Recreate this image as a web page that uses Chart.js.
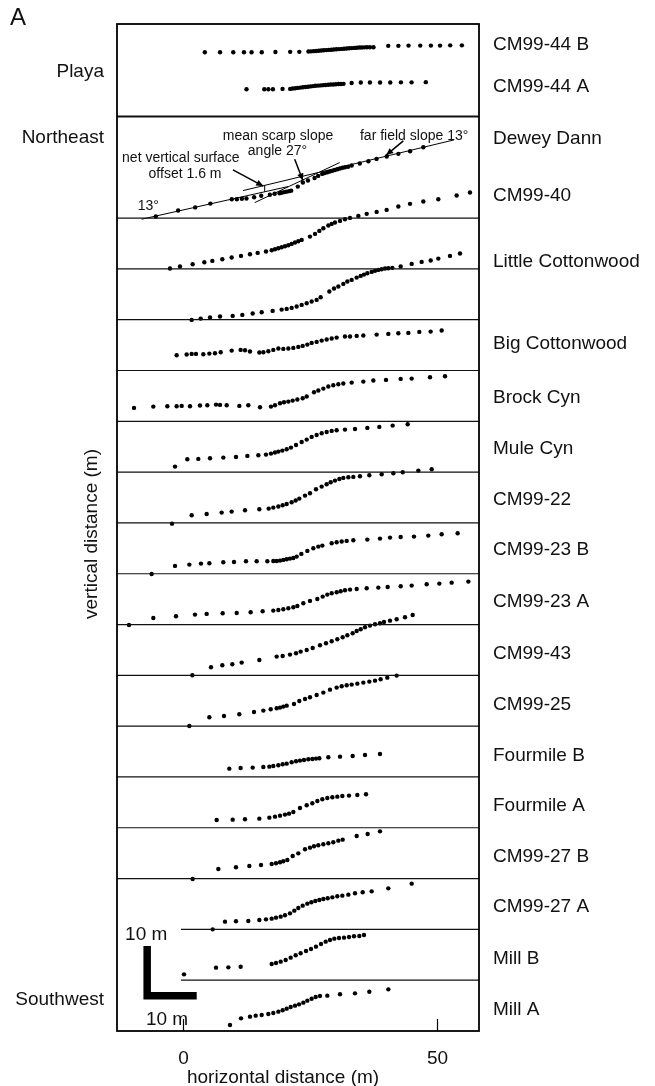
<!DOCTYPE html>
<html><head><meta charset="utf-8">
<script src="https://cdn.jsdelivr.net/npm/chart.js@4/dist/chart.umd.min.js"></script>
<style>html,body{margin:0;padding:0;background:#fff}</style>
</head><body><canvas id="c" width="655" height="1086"></canvas>
<script>
const FONT = '"Liberation Sans", Arial, Helvetica, sans-serif';
const X_MIN = -13.09, X_MAX = 58.17, Y_MAX = 198.2;
const xTicks = [0, 50];

// profile names and label heights (m on the stacked axis)
const profileNames = ['CM99-44 B','CM99-44 A','Dewey Dann','CM99-40','Little Cottonwood','Big Cottonwood','Brock Cyn','Mule Cyn','CM99-22','CM99-23 B','CM99-23 A','CM99-43','CM99-25','Fourmile B','Fourmile A','CM99-27 B','CM99-27 A','Mill B','Mill A'];
const labelY = [194.1,185.8,175.6,164.4,151.4,135.2,124.6,114.6,104.5,94.7,84.4,74.2,64.2,54.1,44.3,34.3,24.4,14.2,4.1];

// separator lines (m)
const sepY = [10,20,30,40,50,60,70,80,90,100,110,120,130,140,150,160,180];
const sepStartX = [-0.5,-0.5,X_MIN,X_MIN,X_MIN,X_MIN,X_MIN,X_MIN,X_MIN,X_MIN,X_MIN,X_MIN,X_MIN,X_MIN,X_MIN,X_MIN,X_MIN];

// profiles: [horizontal m, vertical m]
const cm9944B = [[4.2,192.65],[7.2,192.65],[9.8,192.65],[11.9,192.65],[13.4,192.65],[15.4,192.65],[18.1,192.7],[21.0,192.72],[22.8,192.72],[24.6,192.78],[25.1,192.82],[25.6,192.86],[26.1,192.9],[26.6,192.94],[27.1,192.98],[27.6,193.02],[28.1,193.06],[28.6,193.1],[29.1,193.14],[29.6,193.18],[30.1,193.22],[30.6,193.26],[31.1,193.3],[31.6,193.34],[32.1,193.38],[32.6,193.42],[33.1,193.46],[33.6,193.5],[34.1,193.52],[34.6,193.56],[35.1,193.58],[35.6,193.6],[36.1,193.62],[36.7,193.62],[37.4,193.62],[40.3,193.9],[42.3,193.9],[44.3,193.95],[46.6,193.95],[48.7,193.95],[50.5,193.95],[52.5,194.0],[54.8,194.0]];
const cm9944A = [[12.4,185.37],[15.9,185.37],[16.7,185.37],[17.6,185.37],[19.5,185.43],[21.0,185.43],[21.5,185.5],[22.0,185.56],[22.5,185.62],[23.0,185.68],[23.5,185.74],[24.0,185.8],[24.5,185.86],[25.0,185.92],[25.5,185.98],[26.0,186.04],[26.5,186.08],[27.0,186.12],[27.5,186.16],[28.0,186.2],[28.5,186.24],[29.0,186.28],[29.5,186.3],[30.0,186.34],[30.5,186.38],[31.0,186.4],[31.5,186.42],[33.1,186.6],[34.9,186.68],[36.7,186.68],[38.7,186.7],[40.7,186.7],[42.8,186.72],[44.9,186.72],[47.7,186.75]];
const deweyDann = [[-5.45,160.3],[-1.05,161.5],[2.3,162.1],[5.3,162.85],[9.5,163.7],[10.5,163.72],[11.5,163.8],[12.4,163.85],[13.9,164.1],[15.3,164.4],[17.0,164.6],[17.95,164.8],[18.9,164.9],[19.3,165.0],[19.8,165.1],[20.3,165.2],[20.8,165.3],[21.2,165.4],[22.5,166.2],[23.5,167.0],[24.5,167.4],[25.8,167.9],[26.5,168.3],[27.3,168.7],[27.8,168.85],[28.3,169.0],[28.8,169.15],[29.3,169.3],[29.8,169.45],[30.3,169.6],[30.8,169.75],[31.3,169.9],[31.8,170.0],[32.4,170.1],[33.1,170.34],[34.7,170.73],[36.4,171.19],[38.0,171.65],[40.0,172.11],[42.3,172.64],[44.6,173.16],[47.2,173.95]];
const cm9940 = [[-2.66,150.07],[-0.69,150.46],[1.8,150.92],[4.1,151.31],[5.68,151.57],[7.64,151.9],[9.48,152.23],[11.32,152.56],[13.09,152.89],[14.6,153.15],[16.24,153.41],[17.36,153.67],[18.01,153.87],[18.67,154.07],[19.32,154.27],[19.98,154.46],[20.64,154.66],[21.29,154.92],[21.95,155.18],[22.6,155.45],[23.26,155.71],[24.9,156.36],[25.89,156.89],[26.74,157.48],[27.53,158.01],[28.51,158.53],[29.17,158.86],[29.82,159.12],[30.81,159.45],[31.79,159.78],[32.78,160.04],[34.42,160.43],[36.06,160.83],[38.02,161.22],[39.99,161.61],[42.29,162.27],[44.59,162.8],[47.21,163.25],[50.16,163.71],[53.77,164.44],[56.39,165.03]];
const littleCottonwood = [[1.61,139.96],[3.38,140.22],[5.22,140.42],[7.19,140.62],[9.68,140.75],[11.58,140.94],[13.62,141.21],[15.39,141.47],[17.55,141.73],[19.32,141.99],[20.31,142.13],[21.29,142.32],[22.28,142.59],[23.26,142.91],[24.25,143.24],[25.23,143.57],[26.21,143.9],[27.0,144.42],[28.71,145.54],[29.63,146.13],[30.48,146.52],[31.46,147.05],[32.25,147.51],[33.1,147.83],[34.09,148.29],[34.88,148.62],[35.53,148.88],[36.19,149.15],[37.04,149.41],[37.7,149.61],[38.35,149.8],[39.01,149.93],[39.67,150.07],[40.32,150.13],[41.11,150.2],[42.75,150.46],[44.92,150.98],[46.88,151.38],[48.66,151.64],[50.16,152.03],[52.46,152.56],[54.43,153.02]];
const bigCottonwood = [[-1.35,133.01],[0.62,133.14],[1.61,133.27],[2.46,133.27],[3.9,133.2],[5.09,133.33],[6.2,133.4],[7.32,133.6],[9.48,133.92],[11.25,134.06],[12.11,133.99],[13.09,133.73],[14.93,133.53],[15.72,133.6],[16.7,133.79],[17.68,134.06],[18.67,134.32],[19.65,134.25],[20.64,134.32],[21.62,134.45],[22.6,134.65],[23.46,134.84],[24.38,135.1],[25.23,135.43],[26.21,135.63],[27.2,135.89],[28.18,136.09],[29.17,136.29],[30.15,136.48],[31.79,136.68],[32.78,136.68],[34.09,136.81],[35.4,136.88],[38.02,137.07],[40.32,137.2],[42.29,137.34],[44.26,137.4],[46.42,137.6],[48.65,137.66],[50.82,137.86]];
const brockCyn = [[-9.74,122.64],[-5.94,122.9],[-3.18,122.97],[-1.35,122.97],[-0.36,123.03],[1.28,122.97],[3.25,123.1],[4.69,123.16],[6.4,123.29],[7.19,123.23],[8.5,123.16],[10.99,123.03],[12.76,123.16],[15.06,122.77],[17.22,122.9],[18.01,123.16],[19.0,123.56],[19.78,123.75],[20.64,123.88],[21.49,124.08],[22.41,124.28],[23.46,124.54],[24.25,124.87],[25.69,125.72],[26.54,126.05],[27.53,126.44],[28.51,126.84],[29.49,127.1],[30.48,127.3],[31.46,127.43],[33.1,127.62],[35.4,127.82],[37.37,128.02],[39.86,128.15],[42.75,128.35],[44.92,128.41],[48.53,128.67],[51.48,128.87]];
const muleCyn = [[-1.67,111.09],[0.75,112.53],[2.92,112.6],[5.22,112.73],[7.84,112.86],[10.33,112.99],[12.57,113.19],[14.73,113.32],[16.24,113.45],[17.22,113.65],[18.01,113.85],[18.67,114.04],[19.46,114.24],[20.31,114.5],[21.16,114.83],[22.15,115.35],[23.26,115.94],[24.25,116.4],[25.23,116.93],[26.21,117.32],[27.2,117.65],[28.18,117.91],[29.17,118.11],[30.15,118.24],[31.79,118.37],[33.76,118.5],[36.19,118.7],[38.55,118.9],[41.17,119.16],[44.13,119.42]];
const cm9922 = [[-2.26,99.86],[1.61,101.51],[4.56,101.77],[7.51,102.03],[9.48,102.23],[12.11,102.49],[14.93,102.69],[16.77,102.82],[17.68,103.02],[18.67,103.22],[19.52,103.48],[20.31,103.74],[21.29,104.07],[22.08,104.4],[22.8,104.79],[23.92,105.38],[24.9,105.84],[26.08,106.63],[27.2,107.15],[28.18,107.61],[28.97,108.01],[29.82,108.33],[30.68,108.66],[31.46,108.86],[32.45,108.99],[33.43,109.06],[34.74,109.19],[36.58,109.38],[39.01,109.58],[41.31,109.78],[43.15,109.97],[46.23,110.3],[48.86,110.56]];
const cm9923B = [[-6.27,89.96],[-1.67,91.54],[1.15,91.8],[3.44,91.99],[5.09,92.06],[7.84,92.26],[9.94,92.32],[12.3,92.45],[14.4,92.45],[16.5,92.45],[17.68,92.52],[18.34,92.52],[19.0,92.59],[19.65,92.72],[20.31,92.85],[20.96,92.98],[21.62,93.11],[22.28,93.37],[23.2,93.9],[24.38,94.49],[25.56,95.01],[26.54,95.34],[27.33,95.54],[29.17,96.0],[30.15,96.19],[31.14,96.33],[32.12,96.46],[33.43,96.59],[36.19,96.72],[38.68,96.92],[40.65,97.11],[42.75,97.24],[45.37,97.31],[48.19,97.51],[50.82,97.77],[53.97,97.97]];
const cm9923A = [[-10.73,79.92],[-5.94,81.3],[-1.48,81.63],[2.26,81.96],[4.56,82.09],[7.71,82.22],[10.47,82.28],[13.22,82.41],[15.58,82.61],[17.68,82.74],[18.67,82.87],[19.65,83.01],[20.64,83.2],[21.62,83.4],[22.41,83.66],[23.59,84.19],[24.9,84.65],[26.34,85.04],[27.4,85.5],[28.31,85.89],[29.17,86.15],[30.15,86.35],[30.94,86.55],[31.79,86.75],[32.78,86.88],[34.09,87.01],[36.06,87.14],[38.35,87.27],[40.19,87.4],[42.75,87.53],[44.92,87.66],[47.87,87.93],[50.36,88.06],[52.79,88.25],[56.07,88.45]];
const cm9943 = [[1.74,70.01],[5.41,71.59],[7.64,71.98],[9.61,72.18],[11.45,72.51],[14.93,73.03],[18.34,73.69],[19.52,73.82],[20.96,74.08],[22.15,74.34],[23.06,74.67],[24.25,75.0],[25.43,75.39],[26.87,75.92],[28.05,76.31],[29.17,76.71],[30.28,77.1],[31.33,77.49],[32.25,77.89],[33.3,78.28],[34.09,78.74],[34.88,79.07],[35.73,79.46],[36.71,79.79],[37.7,80.05],[38.68,80.25],[39.47,80.51],[40.65,80.77],[41.96,81.04],[43.6,81.43],[45.11,81.89]];
const cm9925 = [[1.15,60.04],[5.09,61.75],[7.97,62.01],[10.99,62.34],[13.88,62.8],[15.72,63.06],[17.16,63.32],[18.34,63.52],[19.0,63.65],[19.65,63.85],[20.31,64.04],[21.75,64.37],[22.8,64.96],[23.92,65.35],[24.9,65.68],[26.21,66.14],[27.53,66.6],[28.84,67.19],[30.15,67.59],[31.14,67.85],[32.12,68.04],[33.1,68.18],[34.22,68.37],[35.4,68.57],[36.58,68.77],[37.7,68.96],[38.81,69.23],[40.12,69.55],[41.96,69.95]];
const fourmileB = [[9.02,51.64],[11.25,51.77],[13.62,51.84],[15.72,51.97],[16.9,52.03],[17.68,52.17],[18.67,52.3],[19.52,52.49],[20.31,52.62],[21.29,52.89],[22.15,53.08],[22.93,53.22],[23.72,53.35],[24.57,53.48],[25.36,53.54],[26.08,53.61],[26.74,53.67],[28.51,53.87],[30.81,54.0],[33.3,54.13],[35.73,54.33],[38.68,54.53]];
const fourmileA = [[6.53,41.54],[9.68,41.6],[12.11,41.67],[14.93,41.8],[16.9,41.99],[18.01,42.19],[19.0,42.39],[19.98,42.59],[20.77,42.78],[21.62,43.11],[22.93,43.9],[24.25,44.42],[25.36,44.82],[26.35,45.28],[27.33,45.6],[28.31,45.87],[29.3,46.0],[30.28,46.13],[31.27,46.26],[32.58,46.33],[34.22,46.46],[35.93,46.59]];
const cm9927B = [[1.8,29.92],[6.86,31.89],[10.33,32.22],[12.96,32.48],[15.26,32.68],[17.36,32.87],[18.21,33.01],[19.0,33.2],[19.65,33.4],[20.44,33.66],[21.49,34.45],[22.6,34.97],[23.92,35.76],[24.9,36.09],[25.69,36.35],[26.54,36.55],[27.53,36.75],[28.51,36.94],[29.49,37.14],[30.48,37.47],[31.33,37.66],[34.09,38.39],[36.25,38.78],[38.68,39.3]];
const cm9927A = [[5.74,20.01],[8.17,21.52],[10.33,21.59],[12.76,21.65],[14.93,21.85],[16.24,21.98],[17.36,22.11],[18.21,22.31],[19.13,22.51],[19.98,22.77],[20.96,23.16],[21.82,23.69],[22.6,24.21],[23.46,24.67],[24.38,25.07],[25.17,25.33],[25.95,25.59],[26.74,25.79],[27.53,25.98],[28.38,26.12],[29.3,26.31],[30.28,26.51],[31.27,26.64],[32.45,26.84],[33.76,27.1],[35.27,27.3],[37.04,27.49],[40.32,28.08],[44.92,29.0]];
const millB = [[0.1,11.15],[6.4,12.47],[8.83,12.53],[11.25,12.66],[17.36,13.19],[18.21,13.39],[19.13,13.65],[20.11,13.98],[21.1,14.44],[22.08,14.9],[23.06,15.29],[24.12,15.75],[25.1,16.14],[26.08,16.6],[27.07,17.13],[27.99,17.59],[28.84,17.91],[29.69,18.18],[30.61,18.31],[31.6,18.37],[32.58,18.5],[33.56,18.64],[34.61,18.7],[35.53,18.9]];
const millA = [[9.15,1.18],[11.32,2.49],[13.09,2.82],[14.21,3.02],[15.39,3.15],[16.7,3.35],[17.68,3.54],[18.67,3.81],[19.52,4.07],[20.31,4.4],[21.1,4.72],[21.95,4.99],[22.74,5.25],[23.59,5.58],[24.38,5.97],[25.23,6.36],[26.02,6.69],[26.87,6.89],[28.31,6.96],[30.81,7.22],[33.76,7.41],[36.58,7.74],[40.32,8.2]];

const profiles = [cm9944B,cm9944A,deweyDann,cm9940,littleCottonwood,bigCottonwood,brockCyn,muleCyn,cm9922,cm9923B,cm9923A,cm9943,cm9925,fourmileB,fourmileA,cm9927B,cm9927A,millB,millA];

// Dewey Dann construction lines [x1,y1,x2,y2]
const lowerFarField = [-8.23,159.78,20.57,166.2];
const upperFarField = [11.71,165.41,53.25,175.39];
const scarpLine = [14.02,163.05,30.75,170.93];
const offsetTick = [15.98,165.18,15.98,166.44];
// scale bar (10 m x 10 m)
const scaleBar = [[-7.15,16.73],[-7.15,6.93],[2.6,6.93]];

// annotation texts [text, x m, y m, align]
const notes = [
  ['far field slope 13°',34.74,176.2,'left'],
  ['mean scarp slope',18.6,176.2,'center'],
  ['angle 27°',18.5,173.1,'center'],
  ['net vertical surface',-0.53,171.8,'center'],
  ['offset 1.6 m',0.3,168.7,'center'],
  ['13°',-6.93,162.3,'center']
];
// arrows [x1,y1,x2,y2] (m)
const arrows = [[9.74,169.49,15.7,166.3],[21.89,171.59,23.5,167.4],[43.27,175.2,39.9,172.4]];
const regionLabels = [['Playa',188.8],['Northeast',175.8],['Southwest',6.1]];

const datasets = [];
sepY.forEach((y,i)=>datasets.push({data:[{x:sepStartX[i],y},{x:X_MAX,y}],showLine:true,pointRadius:0,borderColor:'#111',borderWidth:y===180?2:1.2}));
[lowerFarField,upperFarField,scarpLine,offsetTick].forEach(l=>datasets.push({data:[{x:l[0],y:l[1]},{x:l[2],y:l[3]}],showLine:true,pointRadius:0,borderColor:'#000',borderWidth:1}));
datasets.push({data:scaleBar.map(p=>({x:p[0],y:p[1]})),showLine:true,pointRadius:0,borderColor:'#000',borderWidth:7.5,borderCapStyle:'butt',borderJoinStyle:'miter'});
profiles.forEach(p=>datasets.push({data:p.map(q=>({x:q[0],y:q[1]})),showLine:false,pointRadius:2.2,pointBackgroundColor:'#000',pointBorderWidth:0}));

function txt(ctx,s,x,y,size,align){ctx.font=size+'px '+FONT;ctx.textAlign=align;ctx.textBaseline='middle';ctx.fillStyle='#111';ctx.fillText(s,x,y);}
function arrow(ctx,x1,y1,x2,y2){ctx.beginPath();ctx.moveTo(x1,y1);ctx.lineTo(x2,y2);ctx.stroke();const a=Math.atan2(y2-y1,x2-x1),L=7,W=3.2;ctx.beginPath();ctx.moveTo(x2,y2);ctx.lineTo(x2-L*Math.cos(a)+W*Math.sin(a),y2-L*Math.sin(a)-W*Math.cos(a));ctx.lineTo(x2-L*Math.cos(a)-W*Math.sin(a),y2-L*Math.sin(a)+W*Math.cos(a));ctx.closePath();ctx.fill();}

const deco = {id:'deco',afterDraw(chart){
  const ctx=chart.ctx, a=chart.chartArea, xs=chart.scales.x, ys=chart.scales.y;
  ctx.save();
  ctx.strokeStyle='#000';ctx.lineWidth=1.8;ctx.strokeRect(a.left,a.top,a.right-a.left,a.bottom-a.top);
  ctx.lineWidth=1.2;
  xTicks.forEach(v=>{const px=xs.getPixelForValue(v);ctx.beginPath();ctx.moveTo(px,a.bottom);ctx.lineTo(px,a.bottom-12);ctx.stroke();});
  profileNames.forEach((n,i)=>txt(ctx,n,a.right+14,ys.getPixelForValue(labelY[i]),19,'left'));
  regionLabels.forEach(r=>txt(ctx,r[0],a.left-13,ys.getPixelForValue(r[1]),19,'right'));
  notes.forEach(n=>txt(ctx,n[0],xs.getPixelForValue(n[1]),ys.getPixelForValue(n[2]),14,n[3]));
  ctx.fillStyle='#000';ctx.strokeStyle='#000';ctx.lineWidth=1.5;
  arrows.forEach(r=>arrow(ctx,xs.getPixelForValue(r[0]),ys.getPixelForValue(r[1]),xs.getPixelForValue(r[2]),ys.getPixelForValue(r[3])));
  txt(ctx,'10 m',xs.getPixelForValue(-11.5),ys.getPixelForValue(18.9),19,'left');
  txt(ctx,'10 m',xs.getPixelForValue(-7.4),ys.getPixelForValue(2.2),19,'left');
  txt(ctx,'A',10,18,24,'left');
  txt(ctx,'horizontal distance (m)',xs.getPixelForValue(19.6),1078,19,'center');
  ctx.translate(92,534);ctx.rotate(-Math.PI/2);txt(ctx,'vertical distance (m)',0,0,19,'center');
  ctx.restore();
}};

new Chart(document.getElementById('c'),{
  type:'scatter',
  data:{datasets},
  options:{
    responsive:false,animation:false,
    layout:{padding:{left:117,right:176,top:24,bottom:0}},
    plugins:{legend:{display:false},tooltip:{enabled:false}},
    scales:{
      x:{type:'linear',min:X_MIN,max:X_MAX,
        afterBuildTicks:s=>{s.ticks=xTicks.map(v=>({value:v}));},
        afterFit:s=>{s.height=55;},
        grid:{display:false},border:{display:false},
        ticks:{font:{family:FONT,size:19},color:'#111',padding:8,maxRotation:0,autoSkip:false}},
      y:{type:'linear',min:0,max:Y_MAX,display:false}
    }
  },
  plugins:[deco]
});
</script></body></html>
